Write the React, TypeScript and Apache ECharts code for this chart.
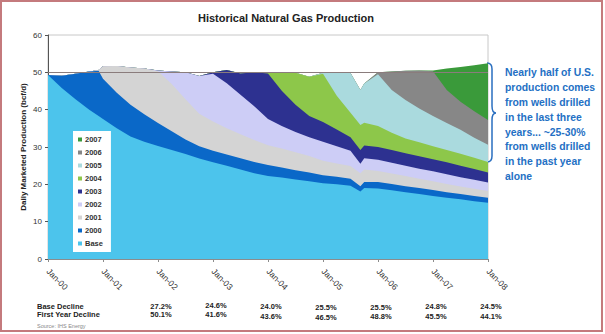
import React, { useEffect, useRef } from 'react';
import * as echarts from 'echarts';

// decimal years since Jan-00
const times = [0, 0.25, 0.5, 0.75, 0.92, 1, 1.25, 1.5, 1.75, 2, 2.25, 2.5, 2.75, 3, 3.25, 3.5, 3.75, 4, 4.25, 4.5, 4.75, 5, 5.25, 5.5, 5.68, 5.75, 6, 6.25, 6.5, 6.75, 7, 7.25, 7.5, 7.75, 8];

const tickLabels = ['Jan-00', 'Jan-01', 'Jan-02', 'Jan-03', 'Jan-04', 'Jan-05', 'Jan-06', 'Jan-07', 'Jan-08'];

// upper boundary (cumulative level, bcf/d) of each layer
const topBase = [49.3, 45.8, 42.8, 40.0, 38.3, 37.5, 35.0, 32.8, 31.4, 30.3, 29.2, 28.1, 26.9, 25.9, 25.0, 24.0, 23.0, 22.2, 21.8, 21.3, 20.8, 20.3, 20.0, 19.6, 18.1, 19.0, 18.9, 18.4, 17.9, 17.4, 16.9, 16.4, 16.0, 15.5, 15.1];
const top2000 = [49.3, 49.1, 49.6, 50.2, 50.4, 48.3, 44.5, 41.3, 38.8, 36.4, 34.2, 32.0, 30.2, 29.0, 28.0, 27.0, 26.0, 25.2, 24.5, 23.8, 23.2, 22.4, 22.0, 21.5, 19.5, 20.6, 20.6, 20.1, 19.5, 19.0, 18.5, 17.9, 17.4, 16.9, 16.4];
const top2001 = [null, null, null, null, 50.6, 51.6, 51.7, 51.3, 51.0, 50.3, 46.9, 42.8, 38.9, 36.8, 35.0, 33.4, 31.9, 30.5, 29.6, 28.6, 27.6, 26.3, 25.6, 24.9, 23.0, 24.0, 23.6, 22.9, 22.2, 21.5, 20.8, 20.1, 19.4, 18.8, 18.2];
const top2002 = [null, null, null, null, null, null, null, null, null, 50.5, 50.2, 50.0, 49.0, 49.6, 47.1, 44.0, 40.9, 37.5, 35.6, 34.0, 32.6, 31.4, 30.2, 29.0, 25.5, 27.0, 26.6, 25.8, 25.0, 24.2, 23.5, 22.7, 21.9, 21.2, 20.5];
const top2003 = [null, null, null, null, null, null, null, null, null, null, null, null, null, 50.0, 50.6, 49.7, 50.0, 49.7, 45.1, 41.3, 38.3, 36.7, 34.7, 32.6, 29.2, 30.4, 30.0, 29.2, 28.3, 27.5, 26.7, 25.9, 25.0, 24.1, 23.2];
const top2004 = [null, null, null, null, null, null, null, null, null, null, null, null, null, null, null, null, null, 50.0, 50.0, 49.9, 48.8, 49.6, 43.7, 39.2, 35.9, 36.5, 35.6, 33.8, 32.3, 31.3, 30.2, 29.2, 28.2, 27.1, 26.0];
const top2005 = [null, null, null, null, null, null, null, null, null, null, null, null, null, null, null, null, null, null, null, null, null, 49.9, 50.0, 49.8, 45.3, 47.0, 49.5, 45.3, 42.6, 40.3, 38.3, 36.4, 34.6, 32.5, 30.6];
const top2006 = [null, null, null, null, null, null, null, null, null, null, null, null, null, null, null, null, null, null, null, null, null, null, null, null, null, null, 50.0, 50.2, 50.4, 50.5, 50.3, 45.3, 42.1, 39.6, 37.2];
const top2007 = [null, null, null, null, null, null, null, null, null, null, null, null, null, null, null, null, null, null, null, null, null, null, null, null, null, null, null, null, null, null, 50.5, 51.0, 51.4, 51.9, 52.4];

const layerNames = ['Base', '2000', '2001', '2002', '2003', '2004', '2005', '2006', '2007'];
const layerColors = ['#4CC4EC', '#0A68C8', '#D4D4D4', '#CDCDF6', '#2D3190', '#8DC74A', '#AADADE', '#878787', '#3A9A3A'];

const baseDecline = ['27.2%', '24.6%', '24.0%', '25.5%', '25.5%', '24.8%', '24.5%'];
const firstYearDecline = ['50.1%', '41.6%', '43.6%', '46.5%', '48.8%', '45.5%', '44.1%'];
const tableYears = [2, 3, 4, 5, 6, 7, 8];

const noteText = 'Nearly half of U.S.\nproduction comes\nfrom wells drilled\nin the last three\nyears... ~25-30%\nfrom wells drilled\nin the past year\nalone';

const FONT = '"Liberation Sans", Arial, sans-serif';

// cumulative upper boundary of each layer (a layer not yet started sits on the one below)
function boundaries(): number[][] {
  const tops = [topBase, top2000, top2001, top2002, top2003, top2004, top2005, top2006, top2007];
  let prev = times.map(() => 0);
  return tops.map((arr) => {
    const out = arr.map((v, i) => (v == null ? prev[i] : Math.max(prev[i], v as number)));
    prev = out;
    return out;
  });
}

export default function App() {
  const ref = useRef<HTMLDivElement>(null);
  useEffect(() => {
    if (!ref.current) return;
    const chart = echarts.init(ref.current, undefined, { renderer: 'svg' });
    const bounds = boundaries();
    // highest layer first so each lower layer is painted over it
    const order = layerNames.map((_, k) => k).reverse();
    const series: any[] = order.map((k) => ({
      name: layerNames[k],
      type: 'line',
      symbol: 'none',
      lineStyle: { width: 0 },
      itemStyle: { color: layerColors[k] },
      areaStyle: { color: layerColors[k], opacity: 1, origin: 'start' },
      data: times.map((t, i) => [t, bounds[k][i]]),
      z: 2,
    }));
    series[series.length - 1].markLine = {
      silent: true,
      symbol: 'none',
      label: { show: false },
      lineStyle: { color: '#8A7C7C', width: 1, type: 'solid' },
      data: [{ yAxis: 50 }],
    };
    chart.setOption({
      animation: false,
      backgroundColor: '#ffffff',
      grid: { left: 48, right: 117, top: 35, bottom: 75, show: true, borderColor: '#C8C8C8', borderWidth: 1 },
      xAxis: {
        type: 'value',
        min: 0,
        max: 8,
        interval: 1,
        splitLine: { show: false },
        axisLine: { lineStyle: { color: '#8C8C8C' } },
        axisTick: { show: true, length: 3, lineStyle: { color: '#8C8C8C' } },
        axisLabel: {
          formatter: (v: number) => tickLabels[Math.round(v)] || '',
          rotate: -45,
          fontSize: 8.5,
          color: '#333',
          margin: 11,
          fontFamily: FONT,
        },
      },
      yAxis: {
        type: 'value',
        min: 0,
        max: 60,
        interval: 10,
        splitLine: { show: false },
        axisLine: { show: true, lineStyle: { color: '#555' } },
        axisTick: { show: true, length: 3, lineStyle: { color: '#555' } },
        axisLabel: { fontSize: 8, color: '#333', margin: 6, fontFamily: FONT },
        name: 'Daily Marketed Production (bcf/d)',
        nameLocation: 'middle',
        nameGap: 21,
        nameMoveOverlap: false,
        nameTextStyle: { fontSize: 8, fontWeight: 'bold', color: '#222', fontFamily: FONT },
      },
      legend: {
        data: layerNames.slice().reverse(),
        orient: 'vertical',
        left: 73,
        top: 131,
        backgroundColor: '#ffffff',
        padding: [4, 8, 4, 5],
        itemGap: 4,
        itemWidth: 4,
        itemHeight: 4,
        icon: 'rect',
        selectedMode: false,
        textStyle: { fontSize: 7.5, fontWeight: 'bold', color: '#333', lineHeight: 9, fontFamily: FONT, padding: [0, 0, 0, -2] },
      },
      series,
    });

    const xs = tableYears.map((t) => chart.convertToPixel({ xAxisIndex: 0 }, t) as number);
    const firstYearY = [314, 314, 316.5, 317, 316.5, 316.5, 316];
    const baseY = [306.4, 305.6, 306.4, 307, 307, 306.4, 306.4];
    const braceD = 'M0,0 Q5,0 5,6 L5,43 Q5,50 9,50 Q5,50 5,57 L5,93 Q5,99 0,99';
    echarts.graphic.registerShape('noteBrace', echarts.graphic.extendPath(braceD, {}) as any);
    const graphics: any[] = [
      { type: 'rect', shape: { x: 1, y: 1, width: 601, height: 330 }, style: { fill: 'none', stroke: '#C47A7D', lineWidth: 2 }, z: 100 },
      { type: 'text', x: 286, y: 18, style: { text: 'Historical Natural Gas Production', font: `bold 11px ${FONT}`, fill: '#222', textAlign: 'center', textVerticalAlign: 'middle' } },
      { type: 'noteBrace', x: 487, y: 63, style: { fill: 'none', stroke: '#2A6FC0', lineWidth: 1.5 } },
      { type: 'text', x: 505, y: 65.5, style: { text: noteText, font: `bold 10.4px ${FONT}`, fill: '#2470C4', lineHeight: 14.8, textVerticalAlign: 'top' } },
      { type: 'text', x: 37, y: 306.4, style: { text: 'Base Decline', font: `bold 7.5px ${FONT}`, fill: '#222', textVerticalAlign: 'middle' } },
      { type: 'text', x: 37, y: 314, style: { text: 'First Year Decline', font: `bold 7.5px ${FONT}`, fill: '#222', textVerticalAlign: 'middle' } },
      { type: 'text', x: 37, y: 325.5, style: { text: 'Source: IHS Energy', font: `5.5px ${FONT}`, fill: '#888', textVerticalAlign: 'middle' } },
    ];
    xs.forEach((x, i) => {
      graphics.push({ type: 'text', x: x + 3, y: baseY[i], style: { text: baseDecline[i], font: `bold 7.5px ${FONT}`, fill: '#222', textAlign: 'center', textVerticalAlign: 'middle' } });
      graphics.push({ type: 'text', x: x + 3, y: firstYearY[i], style: { text: firstYearDecline[i], font: `bold 7.5px ${FONT}`, fill: '#222', textAlign: 'center', textVerticalAlign: 'middle' } });
    });
    chart.setOption({ graphic: graphics });
    return () => chart.dispose();
  }, []);
  return <div ref={ref} style={{ position: 'fixed', left: 0, top: 0, width: 605, height: 334, background: '#fff' }} />;
}
